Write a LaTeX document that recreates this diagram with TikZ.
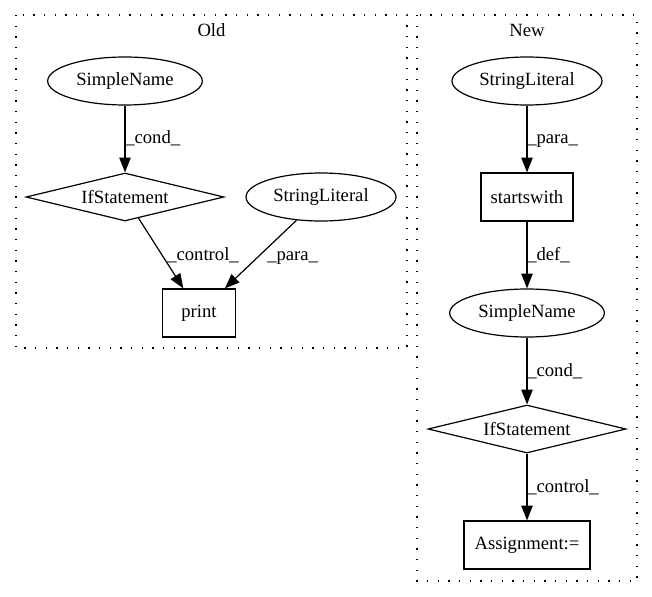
\documentclass[tikz,border=0pt]{standalone}
\usepackage{fontspec}
\setmainfont{Liberation Serif}
\usetikzlibrary{shapes.geometric,arrows.meta}
\begin{document}
\begin{tikzpicture}[x=0.75pt,y=-0.75pt,
  every node/.style={font=\fontsize{14}{16}\selectfont},
  ell/.style={draw,ellipse,minimum height=36pt,inner sep=0pt,line width=0.9pt},
  box/.style={draw,rectangle,minimum height=36pt,inner sep=0pt,line width=0.9pt},
  dia/.style={draw,diamond,minimum width=148.5pt,minimum height=36pt,inner sep=0pt,aspect=4,line width=0.9pt},
  edge/.style={draw,line width=0.9pt,-{Triangle[length=11pt,width=8.5pt]}},
  elab/.style={anchor=base west,inner sep=0pt},
  cluster/.style={draw,line width=1.1pt,dash pattern=on 1.1pt off 6.9pt},
  clab/.style={inner sep=0pt},
]
\useasboundingbox (0,0) rectangle (652,596);
% clusters
\draw[cluster] (16,15) rectangle (407,348);
\draw[cluster] (417,15) rectangle (637,581);
\node[clab] (oldlab) at (211.5,30) {Old};
\node[clab] (newlab) at (527,30) {New};
% Old
\node[ell,minimum width=116pt] (osn) at (125,81) {SimpleName};
\node[dia] (oif) at (125,197) {IfStatement};
\node[ell,minimum width=112.5pt] (osl) at (321,197) {StringLiteral};
\node[box,minimum width=54.75pt] (opr) at (199,313) {print};
\draw[edge] (osn) -- (oif);
\draw[edge] (oif) -- (opr);
\draw[edge] (osl) -- (opr);
\node[elab] (l1) at (125,143) {\_cond\_};
\node[elab] (l2) at (167,260) {\_control\_};
\node[elab] (l3) at (267,260) {\_para\_};
% New
\node[ell,minimum width=112.5pt] (nsl) at (527,81) {StringLiteral};
\node[box,minimum width=69pt] (nsw) at (527,197) {startswith};
\node[ell,minimum width=116pt] (nsn) at (527,313) {SimpleName};
\node[dia] (nif) at (527,429) {IfStatement};
\node[box,minimum width=94.5pt] (nas) at (527,545) {Assignment:=};
\draw[edge] (nsl) -- (nsw);
\draw[edge] (nsw) -- (nsn);
\draw[edge] (nsn) -- (nif);
\draw[edge] (nif) -- (nas);
\node[elab] (l4) at (527,143) {\_para\_};
\node[elab] (l5) at (527,260) {\_def\_};
\node[elab] (l6) at (527,376) {\_cond\_};
\node[elab] (l7) at (527,492) {\_control\_};
\end{tikzpicture}
\end{document}
